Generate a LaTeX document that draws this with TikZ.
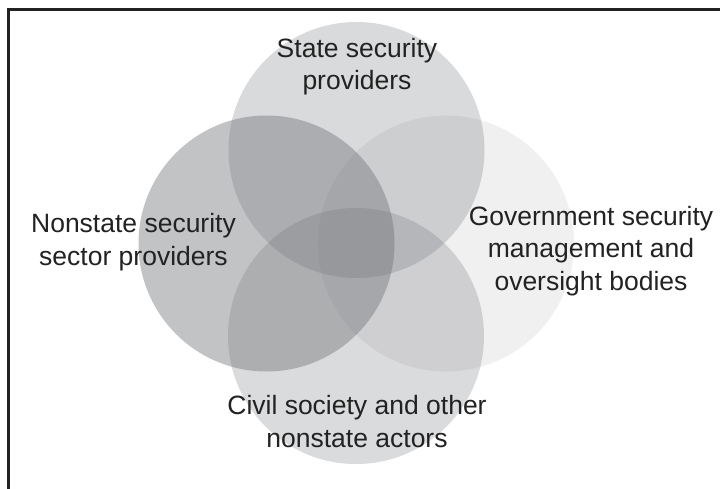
\documentclass[tikz,border=0pt]{standalone}
\usepackage{fontspec}
\setmainfont{Liberation Sans}
\definecolor{cgray}{RGB}{108,110,116}
\definecolor{ink}{HTML}{222222}
\begin{document}
\begin{tikzpicture}[x=1pt,y=-1pt,
  blob/.style={circle,minimum size=256pt,inner sep=0pt,draw=none,fill=cgray},
  lbl/.style={anchor=base,align=center,text=ink,inner sep=0pt,
    font=\fontsize{26.5pt}{32.5pt}\selectfont}]
\useasboundingbox (0,0) rectangle (720,489);
\fill[white] (0,0) rectangle (720,489);
\node[blob,fill opacity=0.255] (top)   at (356.5,150) {};
\node[blob,fill opacity=0.41]  (left)  at (266.5,243.5) {};
\node[blob,fill opacity=0.103] (right) at (446,243.5) {};
\node[blob,fill opacity=0.248] (bot)   at (356,336) {};
\draw[ink,line width=3pt] (8.5,9.5) rectangle (760,520);
\node[lbl] (ttop)   at (357,90)  {State security\\providers};
\node[lbl] (tleft)  at (133.5,265) {Nonstate security\\sector providers};
\node[lbl] (tright) at (591,290) {Government security\\management and\\oversight bodies};
\node[lbl] (tbot)   at (357,447) {Civil society and other\\nonstate actors};
\end{tikzpicture}
\end{document}
